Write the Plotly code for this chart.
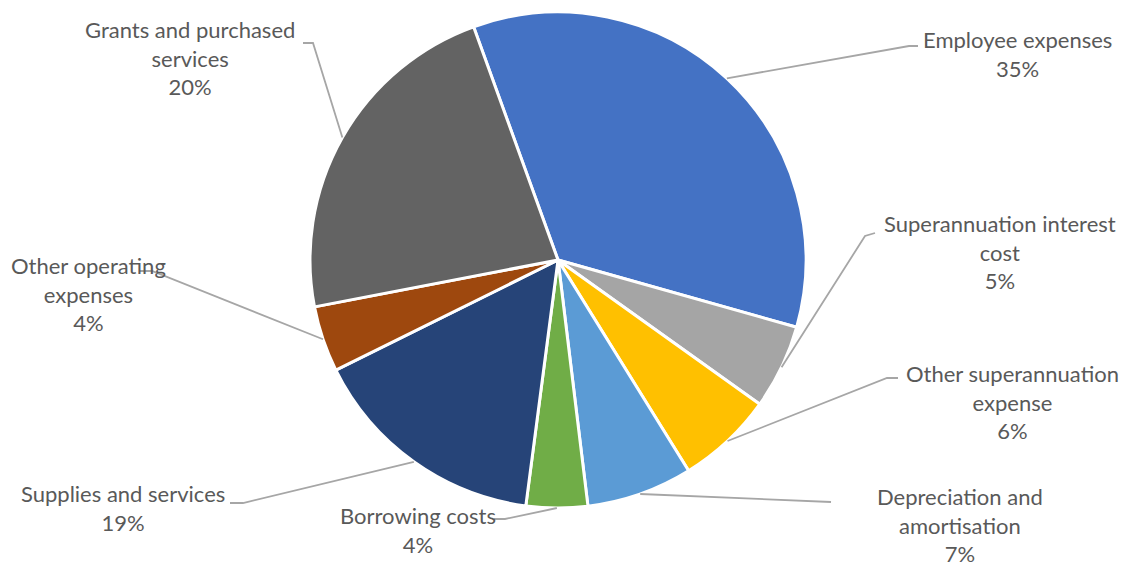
import numpy as np
import plotly.graph_objects as go

# ---- data ----
categories = ["Employee expenses", "Superannuation interest cost", "Other superannuation expense",
              "Depreciation and amortisation", "Borrowing costs", "Supplies and services",
              "Other operating expenses", "Grants and purchased services"]
values = [34.9, 5.5, 6.3, 6.9, 4.0, 15.6, 4.3, 22.5]
label_lines = ["Employee expenses", "Superannuation interest<br>cost", "Other superannuation<br>expense",
               "Depreciation and<br>amortisation", "Borrowing costs", "Supplies and services",
               "Other operating<br>expenses", "Grants and purchased<br>services"]
shown_pct = ["35%", "5%", "6%", "7%", "4%", "19%", "4%", "20%"]
colors = ["#4472C4", "#A5A5A5", "#FFC000", "#5B9BD5", "#70AD47", "#264478", "#9E480E", "#636363"]

# ---- layout settings ----
W, H = 1131, 567
CX, CY, R = 558, 260, 248
ROTATION = -19.9
# label block centre (px) and leader-line corner / end (px)
label_pos = [(1017, 54), (1000, 252), (1012, 402), (960, 525), (418, 530), (123, 508), (88, 294), (190, 58)]
corner_pos = [(909, 46), (865, 236), (887, 378), (831, 502), (505, 519), (243, 503), (152, 271), (313, 43)]
end_pos = [(918, 46), (875, 233), (898, 378), (831, 502), (494, 519), (230, 503), (140, 271), (303, 43)]

fig = go.Figure(go.Pie(
    labels=categories, values=values, sort=False, direction="clockwise", rotation=ROTATION,
    marker=dict(colors=colors, line=dict(color="white", width=3)),
    textinfo="none", hoverinfo="label+percent", showlegend=False,
    domain=dict(x=[(CX - R) / W, (CX + R) / W], y=[1 - (CY + R) / H, 1 - (CY - R) / H]),
))

def px(x, y):
    return x / W, 1 - y / H

total = float(sum(values))
cum = np.concatenate([[0.0], np.cumsum(values)])
start = ROTATION
shapes, annots = [], []
for i, v in enumerate(values):
    mid = np.deg2rad(start + (cum[i] + v / 2) / total * 360)
    sx, sy = CX + R * np.sin(mid), CY - R * np.cos(mid)
    pts = [px(sx, sy), px(*corner_pos[i]), px(*end_pos[i])]
    path = "M {} {} L {} {} L {} {}".format(*[c for p in pts for c in p])
    shapes.append(dict(type="path", xref="paper", yref="paper", path=path,
                       line=dict(color="#A6A6A6", width=1.8)))
    lx, ly = px(*label_pos[i])
    annots.append(dict(x=lx, y=ly, xref="paper", yref="paper", showarrow=False,
                       text=label_lines[i] + "<br>" + shown_pct[i], align="center",
                       xanchor="center", yanchor="middle",
                       font=dict(family="Lato", size=22, color="#595959")))

fig.update_layout(width=W, height=H, margin=dict(l=0, r=0, t=0, b=0),
                  paper_bgcolor="white", plot_bgcolor="white",
                  shapes=shapes, annotations=annots)
fig.write_html("out.html", config={"displayModeBar": False},
               post_script="document.body.style.margin='0px';")
